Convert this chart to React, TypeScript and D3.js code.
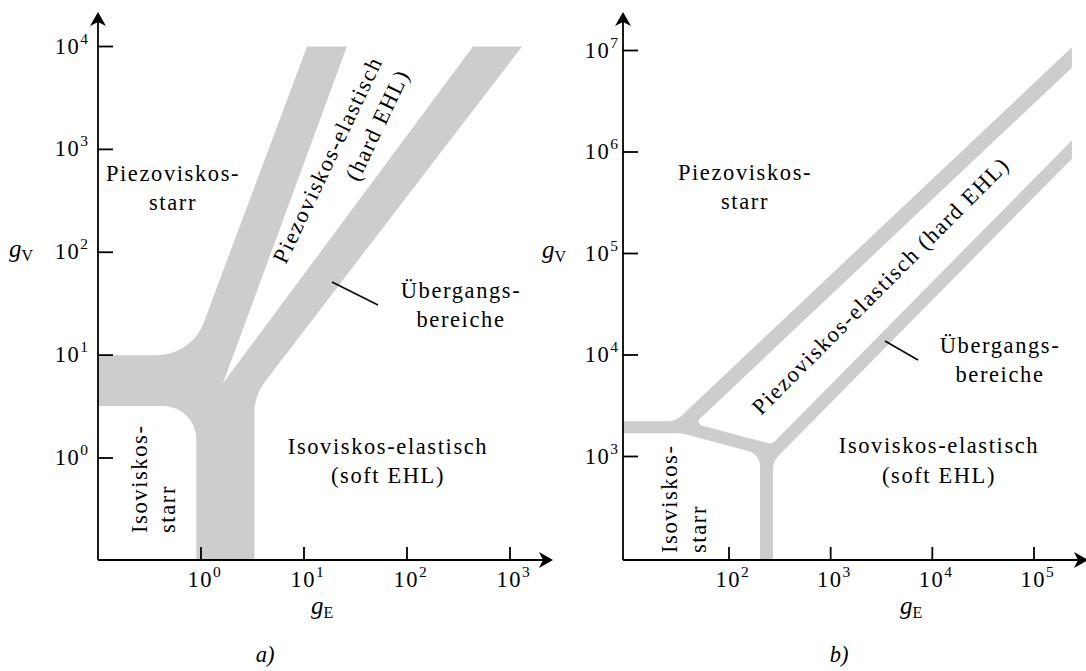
import React from 'react';
import * as d3 from 'd3';

// ================= DATA =================
// Panel a) – log axes, tick exponents
const aXTickExps = [0, 1, 2, 3];
const aYTickExps = [0, 1, 2, 3, 4];
// transition bands (gE / gV values)
const aHorizBand = [3.2, 10];        // gV range of the horizontal band
const aVertBand = [0.9, 3.3];        // gE range of the vertical band
const aTopLimit = 1e4;               // bands end at gV = 1e4
// straight band edges: two [gE, gV] points each
const aSteepLeft = [[1.64, 66.2], [10.7, 1e4]];
const aSteepRight = [[4.13, 66.2], [26.1, 1e4]];
const aHardLeft = [[10.6, 66.2], [437, 1e4]];
const aHardRight = [[28.0, 66.2], [1309, 1e4]];

// Panel b)
const bXTickExps = [2, 3, 4, 5];
const bYTickExps = [3, 4, 5, 6, 7];
const bHorizBand = [1698, 2228];
const bVertBand = [202, 271];
const bRightLimit = 2.36e5;
const bUpperTop = [[100, 6980], [1e5, 4.78e6]];
const bUpperBottom = [[100, 4400], [1e5, 3.01e6]];
const bLinkTop = [[31.6, 2333], [316, 1259]];
const bLinkBottom = [[31.6, 1729], [316, 933]];
const bLowerTop = [[1000, 5093], [1e5, 5.46e5]];
const bLowerBottom = [[1000, 3365], [1e5, 3.6e5]];

// ================= STYLE / LAYOUT =================
const FONT = "'Liberation Serif', 'Times New Roman', serif";
const BAND = '#cdcdcd';
const FS = 22.5;
const LS = 1.6;

type Pt = [number, number];
type Line = { p: Pt; q: Pt };

function intersect(a: Line, b: Line): Pt {
  const [x1, y1] = a.p, [x2, y2] = a.q, [x3, y3] = b.p, [x4, y4] = b.q;
  const d = (x1 - x2) * (y3 - y4) - (y1 - y2) * (x3 - x4);
  const t = ((x1 - x3) * (y3 - y4) - (y1 - y3) * (x3 - x4)) / d;
  return [x1 + t * (x2 - x1), y1 + t * (y2 - y1)];
}

function roundedPath(pts: { x: number; y: number; r: number }[]) {
  const p = d3.path();
  p.moveTo(pts[0].x, pts[0].y);
  for (let i = 1; i < pts.length; i++) {
    const c = pts[i];
    const n = pts[(i + 1) % pts.length];
    if (c.r > 0) p.arcTo(c.x, c.y, n.x, n.y, c.r);
    else p.lineTo(c.x, c.y);
  }
  p.closePath();
  return p.toString();
}

function makeHelpers(sx: any, sy: any) {
  const L = (pts: number[][]): Line => ({ p: [sx(pts[0][0]), sy(pts[0][1])], q: [sx(pts[1][0]), sy(pts[1][1])] });
  const H = (v: number): Line => ({ p: [0, sy(v)], q: [1, sy(v)] });
  const V = (e: number): Line => ({ p: [sx(e), 0], q: [sx(e), 1] });
  return { L, H, V };
}

function Arrow({ x, y, dir }: { x: number; y: number; dir: 'up' | 'right' }) {
  const d = 'M0,0 L-8,14 L0,10 L8,14 Z';
  const rot = dir === 'up' ? 0 : 90;
  return <path d={d} transform={`translate(${x},${y}) rotate(${rot})`} fill="#000" />;
}

function Pow({ x, y, exp, anchor }: { x: number; y: number; exp: number; anchor: string }) {
  return (
    <text x={x} y={y} textAnchor={anchor} fontFamily={FONT} fontSize={22.5}>
      <tspan letterSpacing={1.5}>10</tspan>
      <tspan dy={-10} fontSize={15.5}>{exp}</tspan>
    </text>
  );
}

function AxisVar({ x, y, sub }: { x: number; y: number; sub: string }) {
  return (
    <text x={x} y={y} fontFamily={FONT} fontSize={25}>
      <tspan fontStyle="italic">g</tspan>
      <tspan dy={4} fontSize={16}>{sub}</tspan>
    </text>
  );
}

function Label({ x, y, lines, lh = 29, anchor = 'middle', transform }: any) {
  return (
    <text
      x={transform ? 0 : x}
      y={transform ? 0 : y}
      transform={transform}
      textAnchor={anchor}
      fontFamily={FONT}
      fontSize={FS}
      letterSpacing={LS}
    >
      {lines.map((t: string, i: number) => (
        <tspan key={i} x={transform ? 0 : x} dy={i === 0 ? 0 : lh}>
          {t}
        </tspan>
      ))}
    </text>
  );
}

function PanelA() {
  const ox = 98, oy = 560;
  const sx = d3.scaleLog().domain([1, 1e3]).range([201, 510]);
  const sy = d3.scaleLog().domain([1, 1e4]).range([458, 46.5]);
  const { L, H, V } = makeHelpers(sx, sy);
  const hTop = H(aHorizBand[1]), hBot = H(aHorizBand[0]);
  const vL = V(aVertBand[0]), vR = V(aVertBand[1]);
  const top = H(aTopLimit);
  const SL = L(aSteepLeft), SR = L(aSteepRight), HL = L(aHardLeft), HR = L(aHardRight);
  const pts: { x: number; y: number; r: number }[] = [];
  const add = (p: Pt, r = 0) => pts.push({ x: p[0], y: p[1], r });
  add([ox, sy(aHorizBand[1])]);
  add(intersect(hTop, SL), 50);
  add(intersect(SL, top));
  add(intersect(SR, top));
  add(intersect(SR, HL));
  add(intersect(HL, top));
  add(intersect(HR, top));
  add(intersect(HR, vR), 50);
  add([sx(aVertBand[1]), oy]);
  add([sx(aVertBand[0]), oy]);
  add(intersect(vL, hBot), 33);
  add([ox, sy(aHorizBand[0])]);

  return (
    <g>
      <path d={roundedPath(pts)} fill={BAND} />
      {/* axes */}
      <line x1={ox} y1={oy} x2={ox} y2={20} stroke="#000" strokeWidth={1.8} />
      <line x1={ox} y1={oy} x2={545} y2={oy} stroke="#000" strokeWidth={1.8} />
      <Arrow x={ox} y={12} dir="up" />
      <Arrow x={553} y={oy} dir="right" />
      {aYTickExps.map((e) => (
        <g key={'y' + e}>
          <line x1={ox} x2={ox + 15} y1={sy(10 ** e)} y2={sy(10 ** e)} stroke="#000" strokeWidth={1.8} />
          <Pow x={88} y={sy(10 ** e) + 7} exp={e} anchor="end" />
        </g>
      ))}
      {aXTickExps.map((e) => (
        <g key={'x' + e}>
          <line x1={sx(10 ** e)} x2={sx(10 ** e)} y1={oy} y2={oy - 13} stroke="#000" strokeWidth={1.8} />
          <Pow x={sx(10 ** e) + 3} y={587} exp={e} anchor="middle" />
        </g>
      ))}
      <AxisVar x={9} y={257} sub="V" />
      <AxisVar x={311} y={614} sub="E" />
      <text x={265} y={662} textAnchor="middle" fontFamily={FONT} fontSize={FS} fontStyle="italic">a)</text>
      {/* region labels */}
      <Label x={173} y={181} lines={['Piezoviskos-', 'starr']} />
      <Label anchor="start" transform="translate(147,533) rotate(-90)" lines={['Isoviskos-', 'starr']} lh={28} />
      <Label anchor="end" transform="translate(383,61) rotate(-64.5)" lines={['Piezoviskos-elastisch', '(hard EHL)']} lh={30} />
      <Label x={461} y={298} lines={['Übergangs-', 'bereiche']} />
      <Label x={388} y={454} lines={['Isoviskos-elastisch', '(soft EHL)']} />
      <line x1={332} y1={282} x2={378} y2={305} stroke="#000" strokeWidth={1.5} />
    </g>
  );
}

function PanelB() {
  const ox = 623, oy = 560;
  const sx = d3.scaleLog().domain([1e2, 1e5]).range([729, 1034]);
  const sy = d3.scaleLog().domain([1e3, 1e7]).range([456.5, 50.5]);
  const { L, H, V } = makeHelpers(sx, sy);
  const hTop = H(bHorizBand[1]), hBot = H(bHorizBand[0]);
  const vL = V(bVertBand[0]), vR = V(bVertBand[1]);
  const right = V(bRightLimit);
  const UT = L(bUpperTop), UB = L(bUpperBottom), CT = L(bLinkTop), CB = L(bLinkBottom);
  const LT = L(bLowerTop), LB = L(bLowerBottom);
  const pts: { x: number; y: number; r: number }[] = [];
  const add = (p: Pt, r = 0) => pts.push({ x: p[0], y: p[1], r });
  add([ox, sy(bHorizBand[1])]);
  add(intersect(hTop, UT), 22);
  add(intersect(UT, right));
  add(intersect(UB, right));
  add(intersect(UB, CT), 4);
  add(intersect(CT, LT), 6);
  add(intersect(LT, right));
  add(intersect(LB, right));
  add(intersect(LB, vR), 20);
  add([sx(bVertBand[1]), oy]);
  add([sx(bVertBand[0]), oy]);
  add(intersect(vL, CB), 15);
  add(intersect(CB, hBot), 40);
  add([ox, sy(bHorizBand[0])]);

  return (
    <g>
      <path d={roundedPath(pts)} fill={BAND} />
      <line x1={ox} y1={oy} x2={ox} y2={20} stroke="#000" strokeWidth={1.8} />
      <line x1={ox} y1={oy} x2={1080} y2={oy} stroke="#000" strokeWidth={1.8} />
      <Arrow x={ox} y={12} dir="up" />
      <Arrow x={1088} y={oy} dir="right" />
      {bYTickExps.map((e) => (
        <g key={'y' + e}>
          <line x1={ox} x2={ox + 15} y1={sy(10 ** e)} y2={sy(10 ** e)} stroke="#000" strokeWidth={1.8} />
          <Pow x={618} y={sy(10 ** e) + 7} exp={e} anchor="end" />
        </g>
      ))}
      {bXTickExps.map((e) => (
        <g key={'x' + e}>
          <line x1={sx(10 ** e)} x2={sx(10 ** e)} y1={oy} y2={oy - 13} stroke="#000" strokeWidth={1.8} />
          <Pow x={sx(10 ** e) + 3} y={587} exp={e} anchor="middle" />
        </g>
      ))}
      <AxisVar x={542} y={258} sub="V" />
      <AxisVar x={900} y={614} sub="E" />
      <text x={839} y={662} textAnchor="middle" fontFamily={FONT} fontSize={FS} fontStyle="italic">b)</text>
      <Label x={745} y={180} lines={['Piezoviskos-', 'starr']} />
      <Label anchor="start" transform="translate(677,553) rotate(-90)" lines={['Isoviskos-', 'starr']} lh={29} />
      <Label anchor="start" transform="translate(761,416) rotate(-45)" lines={['Piezoviskos-elastisch (hard EHL)']} />
      <Label x={1000} y={353} lines={['Übergangs-', 'bereiche']} />
      <Label x={939} y={453} lines={['Isoviskos-elastisch', '(soft EHL)']} lh={30} />
      <line x1={885} y1={341} x2={918} y2={360} stroke="#000" strokeWidth={1.5} />
    </g>
  );
}

export default function App() {
  return (
    <svg
      width={1086}
      height={671}
      viewBox="0 0 1086 671"
      style={{ position: 'absolute', left: 0, top: 0, background: '#fff' }}
    >
      <rect width={1086} height={671} fill="#fff" />
      <PanelA />
      <PanelB />
    </svg>
  );
}
